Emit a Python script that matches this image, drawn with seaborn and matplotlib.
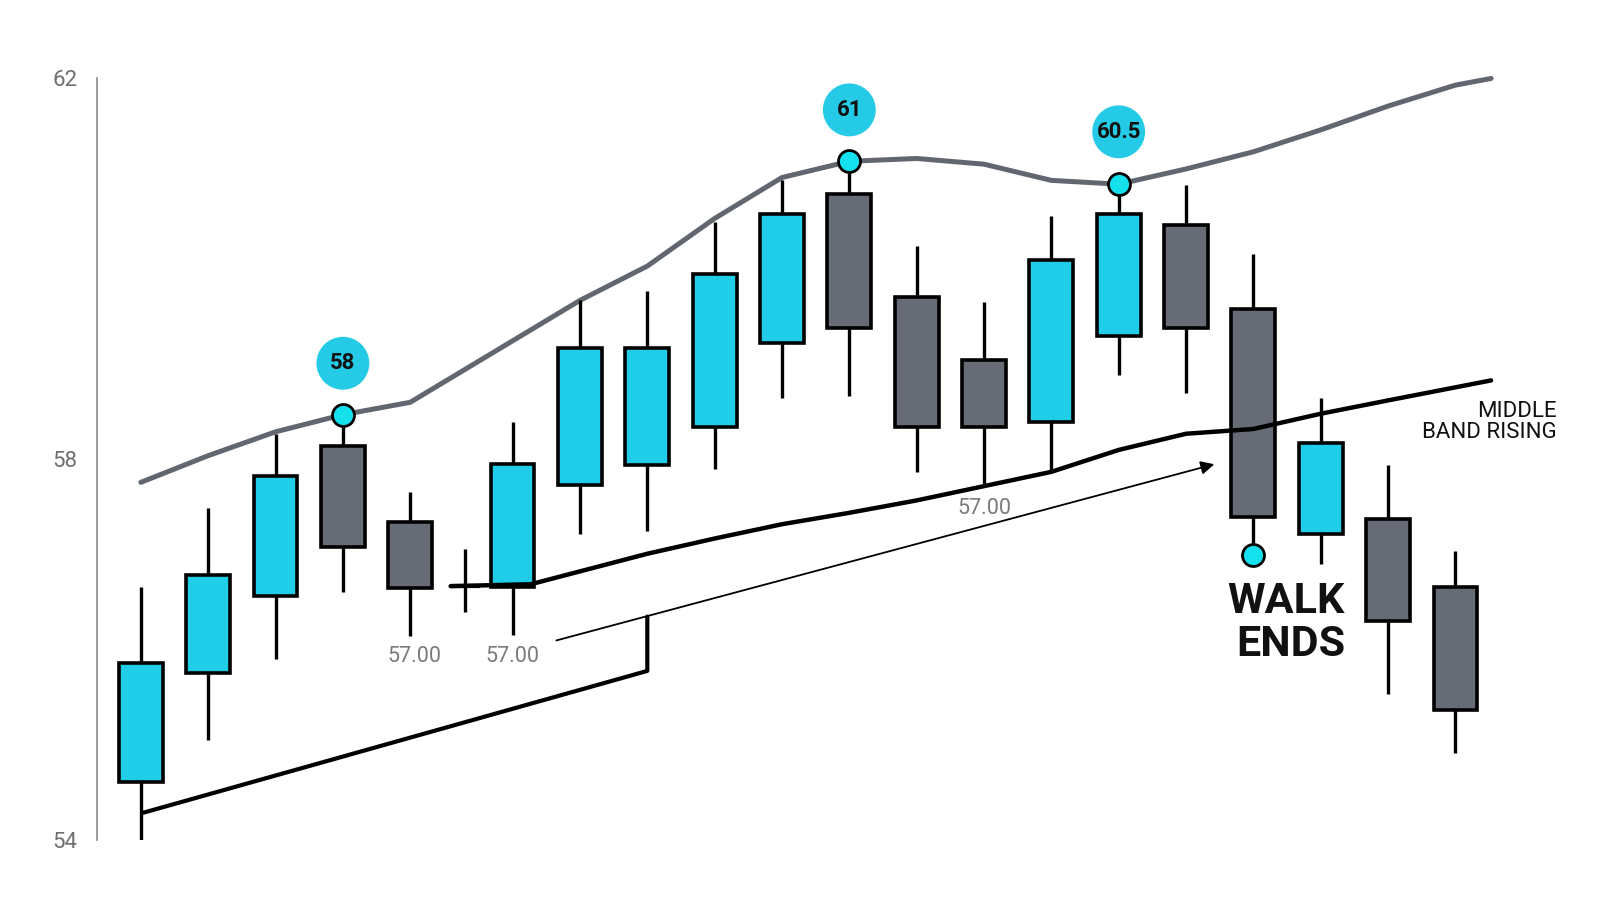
import matplotlib
matplotlib.use("Agg")
import matplotlib.pyplot as plt
import seaborn as sns
import pandas as pd

# candle positions along the time axis (the doji sits squeezed between two candles)
t = [0, 1, 2, 3, 4, 4.82, 5.52, 6.52, 7.52, 8.52, 9.52, 10.52, 11.52, 12.52,
     13.52, 14.52, 15.52, 16.52, 17.52, 18.52, 19.52]
opens = [54.60, 55.75, 56.56, 58.13, 57.33, 56.66, 56.65, 57.72, 57.93, 58.33, 59.21,
         60.78, 59.70, 59.03, 58.38, 59.29, 60.45, 59.57, 57.21, 57.37, 56.65]
closes = [55.85, 56.78, 57.82, 57.07, 56.64, 56.66, 57.94, 59.16, 59.16, 59.94, 60.57,
          59.37, 58.33, 58.33, 60.08, 60.57, 59.37, 57.39, 58.16, 56.29, 55.36]
highs = [56.65, 57.48, 58.26, 58.46, 57.65, 57.05, 58.38, 59.66, 59.76, 60.48, 60.92,
         61.12, 60.23, 59.64, 60.55, 60.88, 60.87, 60.15, 58.64, 57.93, 57.03]
lows = [54.00, 55.04, 55.90, 56.60, 56.14, 56.39, 56.15, 57.21, 57.24, 57.89, 58.64,
        58.66, 57.86, 57.73, 57.86, 58.88, 58.69, 56.99, 56.89, 55.53, 54.91]

# upper band
upper_t = [0, 1, 2, 3, 4, 6.52, 7.52, 8.52, 9.52, 10.52, 11.52, 12.52, 13.52, 14.52,
           15.52, 16.52, 17.52, 18.52, 19.52, 20.05]
upper_v = [57.75, 58.03, 58.28, 58.46, 58.59, 59.66, 60.02, 60.52, 60.95, 61.12, 61.15,
           61.09, 60.92, 60.88, 61.04, 61.22, 61.45, 61.70, 61.92, 61.99]

# middle band
middle_t = [4.6, 5.79, 7.52, 8.52, 9.52, 10.52, 11.52, 12.52, 13.52, 14.52, 15.52,
            16.52, 17.52, 18.52, 20.05]
middle_v = [56.66, 56.68, 57.00, 57.16, 57.31, 57.43, 57.56, 57.71, 57.86, 58.09, 58.26,
            58.31, 58.47, 58.61, 58.82]

# lower line and the thin arrow
lower_t = [0.03, 7.52, 7.52]
lower_v = [54.28, 55.77, 56.34]
arrow_from = (6.17, 56.09)
arrow_to = (15.94, 57.94)

# touch points and their value bubbles
touch_t = [3, 10.52, 14.52, 16.52]
touch_v = [58.46, 61.12, 60.88, 56.99]
bubble_t = [3, 10.52, 14.52]
bubble_v = [59.00, 61.66, 61.43]
bubble_txt = ["58", "61", "60.5"]

# gray price notes
note_t = [4.06, 5.52, 12.52]
note_v = [55.92, 55.92, 57.48]
note_txt = ["57.00", "57.00", "57.00"]

yticks = [54, 58, 62]

CYAN = "#1fcde8"
GRAY = "#676b76"
BAND = "#62666f"

sns.set_theme(style="white")
plt.rcParams["font.family"] = ["Roboto", "DejaVu Sans"]

fig = plt.figure(figsize=(16, 9.14), dpi=100)
ax = fig.add_axes([0.0606, 0.0815, 0.9394, 0.8337])

bands = pd.DataFrame({"t": upper_t, "v": upper_v})
sns.lineplot(data=bands, x="t", y="v", color=BAND, lw=3.6, ax=ax, zorder=1, clip_on=False)

# candles
for i in range(len(t)):
    ax.vlines(t[i], lows[i], highs[i], color="black", lw=2.4, zorder=2)
    if opens[i] == closes[i]:
        ax.hlines(opens[i], t[i] - 0.22, t[i] + 0.22, color="black", lw=3, zorder=3)
        continue
    up = closes[i] > opens[i]
    ax.bar(t[i], abs(closes[i] - opens[i]), bottom=min(opens[i], closes[i]), width=0.65,
           color=CYAN if up else GRAY, edgecolor="black", linewidth=2.6, zorder=3)

mid = pd.DataFrame({"t": middle_t, "v": middle_v})
sns.lineplot(data=mid, x="t", y="v", color="black", lw=3.2, ax=ax, zorder=4)

low = pd.DataFrame({"t": lower_t, "v": lower_v})
sns.lineplot(data=low, x="t", y="v", color="black", lw=3.0, ax=ax, zorder=4,
             estimator=None, sort=False)

ax.annotate("", xy=arrow_to, xytext=arrow_from,
            arrowprops=dict(arrowstyle="-|>", color="black", lw=1.3, mutation_scale=20,
                            shrinkA=0, shrinkB=0), zorder=4)

sns.scatterplot(x=touch_t, y=touch_v, s=250, color="#14e0ee", edgecolor="black",
                linewidth=2, ax=ax, zorder=6)
sns.scatterplot(x=bubble_t, y=bubble_v, s=1450, color="#25cbe6", edgecolor="none",
                ax=ax, zorder=6)
for bx, by, bt in zip(bubble_t, bubble_v, bubble_txt):
    ax.text(bx, by, bt, ha="center", va="center", fontsize=16, fontweight="bold",
            color="#111111", zorder=7)

for nx, ny, nt in zip(note_t, note_v, note_txt):
    ax.text(nx, ny, nt, ha="center", va="center", fontsize=15.5, color="#7a7a7a", zorder=7)

ax.text(21.03, 58.38, "MIDDLE\nBAND RISING", ha="right", va="center", fontsize=16,
        linespacing=1.0, color="#111111")
ax.text(17.88, 56.27, "WALK\nENDS", ha="right", va="center", multialignment="right",
        fontsize=31, fontweight="bold", linespacing=1.05, color="#111111")

ax.set_xlim(-0.652, 21.667)
ax.set_ylim(54, 62)
ax.set_yticks(yticks)
ax.set_yticklabels([str(v) for v in yticks])
ax.set_xticks([])
ax.set_xlabel("")
ax.set_ylabel("")
ax.tick_params(axis="y", length=0, pad=14, labelsize=16, labelcolor="#6e6e6e")
for side in ["top", "right", "bottom"]:
    ax.spines[side].set_visible(False)
ax.spines["left"].set_color("#8a8a8a")
ax.spines["left"].set_linewidth(1.2)
ax.spines["left"].set_bounds(54, 62)
ax.set_facecolor("white")
fig.patch.set_facecolor("white")

fig.savefig("out.png", dpi=100, facecolor="white")
